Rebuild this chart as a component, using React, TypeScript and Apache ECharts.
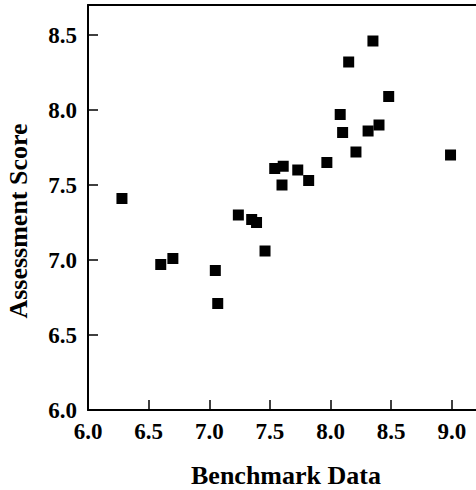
import React, { useEffect, useRef } from "react";
import * as echarts from "echarts";

const benchmark = [6.28, 6.6, 6.7, 7.05, 7.07, 7.24, 7.35, 7.39, 7.46, 7.54, 7.61, 7.6, 7.73, 7.82, 7.97, 8.35, 8.15, 8.48, 8.08, 8.1, 8.31, 8.4, 8.21, 8.99];
const assessment = [7.41, 6.97, 7.01, 6.93, 6.71, 7.3, 7.27, 7.25, 7.06, 7.61, 7.625, 7.5, 7.6, 7.53, 7.65, 8.46, 8.32, 8.09, 7.97, 7.85, 7.86, 7.9, 7.72, 7.7];
const xTitle = "Benchmark Data";
const yTitle = "Assessment Score";

const FONT = "'Liberation Serif', 'Times New Roman', serif";

export default function App() {
  const ref = useRef<HTMLDivElement>(null);
  useEffect(() => {
    if (!ref.current) return;
    const chart = echarts.init(ref.current, null, { renderer: "svg" });
    const labelStyle = { fontFamily: FONT, fontWeight: "bold" as const, fontSize: 23, color: "#000" };
    chart.setOption({
      animation: false,
      grid: { left: 88, right: 0, top: 5, bottom: 80 },
      xAxis: [
        {
          type: "value",
          min: 6.0,
          max: 9.2,
          interval: 0.5,
          position: "bottom",
          axisLine: { show: true, lineStyle: { color: "#000", width: 2 } },
          axisTick: { show: true, inside: true, length: 10, lineStyle: { color: "#000", width: 1.5 } },
          splitLine: { show: false },
          axisLabel: {
            ...labelStyle,
            margin: 10,
            showMaxLabel: false,
            formatter: (v: number) => v.toFixed(1),
          },
        },
        {
          type: "value",
          min: 6.0,
          max: 9.2,
          position: "top",
          axisLine: { show: true, lineStyle: { color: "#000", width: 2 } },
          axisTick: { show: false },
          axisLabel: { show: false },
          splitLine: { show: false },
        },
      ],
      yAxis: {
        type: "value",
        min: 6.0,
        max: 8.7,
        interval: 0.5,
        axisLine: { show: true, lineStyle: { color: "#000", width: 2 } },
        axisTick: { show: true, inside: true, length: 10, lineStyle: { color: "#000", width: 1.5 } },
        splitLine: { show: false },
        axisLabel: {
          ...labelStyle,
          margin: 11,
          showMaxLabel: false,
          formatter: (v: number) => v.toFixed(1),
        },
      },
      graphic: [
        {
          type: "text",
          x: 286,
          y: 475,
          style: {
            text: xTitle,
            fontFamily: FONT,
            fontWeight: "bold",
            fontSize: 26,
            fill: "#000",
            align: "center",
            verticalAlign: "middle",
          },
        },
        {
          type: "text",
          x: 18,
          y: 221,
          rotation: Math.PI / 2,
          style: {
            text: yTitle,
            fontFamily: FONT,
            fontWeight: "bold",
            fontSize: 26,
            fill: "#000",
            align: "center",
            verticalAlign: "middle",
          },
        },
      ],
      series: [
        {
          type: "scatter",
          xAxisIndex: 0,
          symbol: "rect",
          symbolSize: 11,
          itemStyle: { color: "#000", opacity: 1 },
          emphasis: { disabled: true },
          data: benchmark.map((x, i) => [x, assessment[i]]),
        },
      ],
    });
    return () => chart.dispose();
  }, []);
  return <div ref={ref} style={{ width: 476, height: 490, position: "absolute", left: 0, top: 0 }} />;
}
